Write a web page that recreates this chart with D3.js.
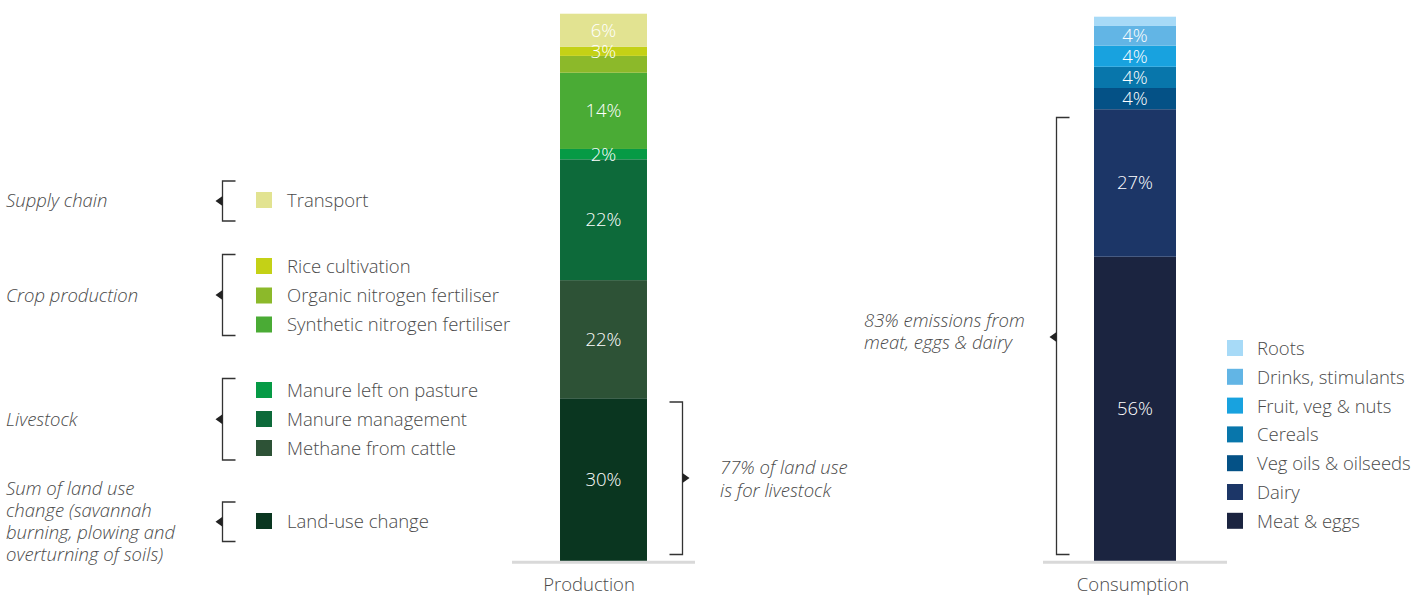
<!DOCTYPE html>
<html>
<head>
<meta charset="utf-8">
<script src="https://cdn.jsdelivr.net/npm/d3@7"></script>
<style>
  html, body { margin: 0; padding: 0; background: #fff; }
  svg text { font-family: "Open Sans", "Noto Sans", sans-serif; }
</style>
</head>
<body>
<svg id="chart" width="1428" height="597"></svg>
<script>
// ---------- DATA ----------
// Production (bottom to top)
const prodCategories = ["Land-use change", "Methane from cattle", "Manure management", "Manure left on pasture",
  "Synthetic nitrogen fertiliser", "Organic nitrogen fertiliser", "Rice cultivation", "Transport"];
const prodValues = [29.9, 21.7, 22.2, 1.9, 14.0, 3.1, 1.65, 6.1];
const prodLabels = ["30%", "22%", "22%", "2%", "14%", "", "3%", "6%"];
const prodColors = ["#0a3620", "#2d5236", "#0d6a3a", "#069a45", "#4aab35", "#8cb92a", "#c4d116", "#e2e391"];

// Consumption (bottom to top)
const consCategories = ["Meat & eggs", "Dairy", "Veg oils & oilseeds", "Cereals", "Fruit, veg & nuts", "Drinks, stimulants", "Roots"];
const consValues = [55.9, 27.1, 3.9, 3.9, 3.9, 3.6, 1.7];
const consLabels = ["56%", "27%", "4%", "4%", "4%", "4%", ""];
const consColors = ["#1b2440", "#1c3667", "#045186", "#0876ab", "#18a2df", "#62b5e5", "#a7daf7"];

// Production legend groups (top to bottom)
const prodGroups = [
  { title: ["Supply chain"], items: ["Transport"] },
  { title: ["Crop production"], items: ["Rice cultivation", "Organic nitrogen fertiliser", "Synthetic nitrogen fertiliser"] },
  { title: ["Livestock"], items: ["Manure left on pasture", "Manure management", "Methane from cattle"] },
  { title: ["Sum of land use", "change (savannah", "burning, plowing and", "overturning of soils)"], items: ["Land-use change"] }
];
const consLegend = ["Roots", "Drinks, stimulants", "Fruit, veg & nuts", "Cereals", "Veg oils & oilseeds", "Dairy", "Meat & eggs"];
const barNames = ["Production", "Consumption"];
const prodNote = ["77% of land use", "is for livestock"];
const consNote = ["83% emissions from", "meat, eggs & dairy"];

// ---------- LAYOUT ----------
const svg = d3.select("#chart");
const textColor = "#4a4a4a";
const FS = 18.5;
const y = d3.scaleLinear().domain([0, 100]).range([561, 16.7]);

function stackData(values, cats) {
  let acc = 0;
  return values.map((v, i) => { const d = { cat: cats[i], y0: acc, y1: acc + v, i }; acc += v; return d; });
}

function drawBar(name, values, cats, labels, colors, range, pad, labelX) {
  const x = d3.scaleBand().domain([name]).range(range).paddingOuter(pad).paddingInner(0);
  const g = svg.append("g");
  const data = stackData(values, cats);
  g.selectAll("rect").data(data).join("rect")
    .attr("x", x(name)).attr("width", x.bandwidth())
    .attr("y", d => y(d.y1)).attr("height", d => y(d.y0) - y(d.y1))
    .attr("fill", d => colors[d.i]);
  g.selectAll("text.val").data(data.filter(d => labels[d.i])).join("text")
    .attr("class", "val")
    .attr("x", x(name) + x.bandwidth() / 2)
    .attr("y", d => (y(d.y0) + y(d.y1)) / 2)
    .attr("dy", "0.35em")
    .attr("text-anchor", "middle")
    .attr("fill", "#fff").attr("font-size", FS).attr("font-weight", 300)
    .text(d => labels[d.i]);
  // baseline
  g.append("line").attr("x1", range[0]).attr("x2", range[1]).attr("y1", 562.2).attr("y2", 562.2)
    .attr("stroke", "#d9d9d9").attr("stroke-width", 3);
  g.append("text").attr("x", labelX).attr("y", 585).attr("dy", "0.35em")
    .attr("text-anchor", "middle").attr("fill", textColor).attr("font-size", FS).attr("font-weight", 300)
    .text(name);
  return x;
}

drawBar(barNames[0], prodValues, prodCategories, prodLabels, prodColors, [512, 695], 0.552, 589);
drawBar(barNames[1], consValues, consCategories, consLabels, consColors, [1043, 1227], 0.622, 1133);

// bracket helper: dir 'left' => ticks to the right, arrow to the left
function bracket(x, y1, y2, dir, arrowY) {
  const t = 13;
  const g = svg.append("g");
  const sx = dir === "left" ? 1 : -1;
  g.append("path")
    .attr("d", `M${x + sx * t},${y1}H${x}V${y2}H${x + sx * t}`)
    .attr("fill", "none").attr("stroke", "#333").attr("stroke-width", 1.3);
  const ay = arrowY != null ? arrowY : (y1 + y2) / 2;
  const aw = 7 * -sx;
  g.append("path")
    .attr("d", `M${x},${ay - 5}L${x + aw},${ay}L${x},${ay + 5}Z`)
    .attr("fill", "#222");
}

// ---------- PRODUCTION LEGEND ----------
const colorOf = c => prodColors[prodCategories.indexOf(c)];
const legendRowY = {
  "Transport": 200, "Rice cultivation": 266, "Organic nitrogen fertiliser": 295.5, "Synthetic nitrogen fertiliser": 324.5,
  "Manure left on pasture": 390, "Manure management": 419, "Methane from cattle": 448, "Land-use change": 521
};
const bracketSpans = [[181, 221], [254.5, 335.5], [378.5, 460], [502, 541.5]];
const titleY = [201, 296, 420, 489];

prodGroups.forEach((grp, gi) => {
  grp.items.forEach(item => {
    const ry = legendRowY[item];
    svg.append("rect").attr("x", 256).attr("y", ry - 8).attr("width", 16).attr("height", 16).attr("fill", colorOf(item));
    svg.append("text").attr("x", 287).attr("y", ry + 0.5).attr("dy", "0.35em")
      .attr("fill", textColor).attr("font-size", FS).attr("font-weight", 300).text(item);
  });
  const t = svg.append("text").attr("x", 6).attr("y", titleY[gi]).attr("dy", "0.35em")
    .attr("fill", textColor).attr("font-size", FS).attr("font-weight", 300).attr("font-style", "italic");
  grp.title.forEach((line, li) => {
    t.append("tspan").attr("x", 6).attr("y", titleY[gi] + li * 22).attr("dy", "0.35em").text(line);
  });
  const [b1, b2] = bracketSpans[gi];
  bracket(222.5, b1, b2, "left");
});

// ---------- CONSUMPTION LEGEND ----------
consLegend.forEach((item, i) => {
  const ry = 348 + i * 28.8;
  svg.append("rect").attr("x", 1227).attr("y", ry - 8).attr("width", 16).attr("height", 16)
    .attr("fill", consColors[consCategories.indexOf(item)]);
  svg.append("text").attr("x", 1257).attr("y", ry + 0.5).attr("dy", "0.35em")
    .attr("fill", textColor).attr("font-size", FS).attr("font-weight", 300).text(item);
});

// ---------- ANNOTATIONS ----------
bracket(682.5, 402, 554.5, "right", 478);
prodNote.forEach((line, i) => {
  svg.append("text").attr("x", 720).attr("y", 468 + i * 23).attr("dy", "0.35em")
    .attr("fill", textColor).attr("font-size", FS).attr("font-weight", 300).attr("font-style", "italic").text(line);
});
bracket(1056.5, 117.5, 554.5, "left", 337);
consNote.forEach((line, i) => {
  svg.append("text").attr("x", 864).attr("y", 321 + i * 22).attr("dy", "0.35em")
    .attr("fill", textColor).attr("font-size", FS).attr("font-weight", 300).attr("font-style", "italic").text(line);
});
</script>
</body>
</html>
